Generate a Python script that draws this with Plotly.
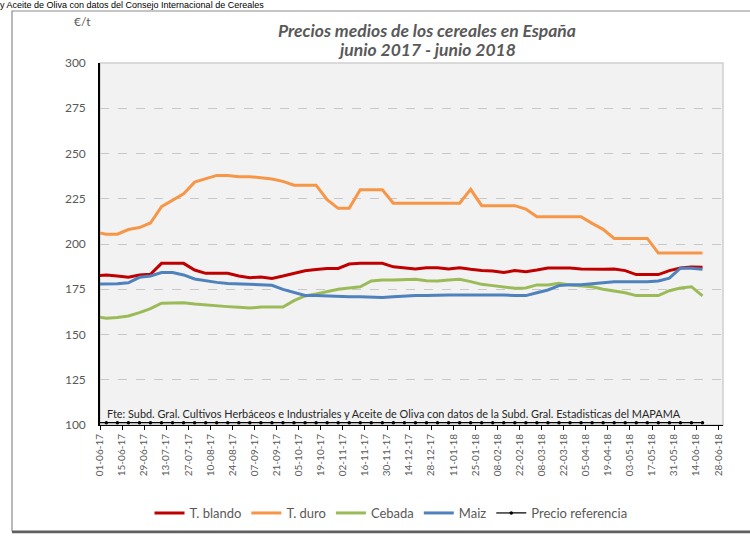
import plotly.graph_objects as go
import pandas as pd

# Weekly quotation dates (Mondays)
dates = pd.date_range("2017-05-29", "2018-06-18", freq="7D")

t_blando = [182.3, 182.9, 182.3, 181.7, 182.9, 183.3, 189.3, 189.3, 189.3, 185.6,
            183.8, 183.8, 183.8, 182.3, 181.4, 181.7, 181.0, 182.3, 183.8, 185.2,
            185.9, 186.5, 186.5, 188.9, 189.3, 189.3, 189.3, 187.4, 186.8, 186.2,
            186.9, 186.9, 186.2, 186.9, 186.0, 185.3, 185.1, 184.2, 185.3, 184.7,
            185.6, 186.7, 186.7, 186.7, 186.2, 186.0, 186.0, 186.2, 185.3, 183.1,
            182.9, 183.1, 185.3, 186.7, 187.3, 187.1]

t_duro = [206.5, 205.4, 205.4, 208.0, 209.1, 211.6, 220.6, 224.0, 227.7, 234.2,
          236.1, 237.9, 237.9, 237.2, 237.2, 236.6, 235.9, 234.6, 232.5, 232.5,
          232.5, 224.5, 219.7, 219.7, 230.0, 230.0, 230.0, 222.5, 222.5, 222.5,
          222.5, 222.5, 222.5, 222.5, 230.2, 221.2, 221.2, 221.2, 221.2, 219.3,
          215.1, 215.1, 215.1, 215.1, 215.1, 211.4, 208.1, 203.1, 203.1, 203.1,
          203.1, 195.0, 195.0, 195.0, 195.0, 195.0]

cebada = [159.9, 159.0, 159.4, 160.2, 162.1, 164.3, 167.3, 167.3, 167.6, 166.9,
          166.3, 165.7, 165.4, 165.0, 164.6, 165.2, 165.2, 165.2, 168.7, 171.3,
          172.4, 173.7, 175.0, 175.7, 176.4, 179.6, 180.1, 180.1, 180.5, 180.5,
          179.7, 179.6, 180.1, 180.5, 179.2, 177.7, 177.0, 176.1, 175.5, 175.7,
          177.4, 177.4, 178.3, 177.4, 177.0, 176.4, 175.0, 173.9, 173.1, 171.5,
          171.5, 171.5, 174.2, 175.7, 176.4, 171.3]

maiz = [177.9, 177.9, 178.0, 178.6, 181.6, 182.3, 184.2, 184.2, 182.9, 180.7,
        179.7, 178.8, 178.2, 177.9, 177.7, 177.5, 177.2, 174.9, 173.1, 171.6,
        171.6, 171.3, 170.9, 170.9, 170.9, 170.5, 170.5, 170.9, 171.3, 171.5,
        171.6, 171.5, 171.8, 171.8, 171.8, 172.2, 172.2, 171.8, 171.5, 171.5,
        173.1, 174.6, 177.0, 177.5, 177.5, 178.1, 178.3, 179.2, 179.2, 179.0,
        179.2, 179.6, 181.1, 186.6, 186.6, 186.0]

precio_ref = [101.31] * len(dates)

y_ticks = [100, 125, 150, 175, 200, 225, 250, 275, 300]

series = [
    ("T. blando", t_blando, "#c00000"),
    ("T. duro", t_duro, "#f79646"),
    ("Cebada", cebada, "#9bbb59"),
    ("Maiz", maiz, "#4f81bd"),
]

FONT = "Lato"
GREY = "#595959"

fig = go.Figure()
for name, vals, col in series:
    fig.add_trace(go.Scatter(x=dates, y=vals, name=name, mode="lines",
                             line=dict(color=col, width=3)))
fig.add_trace(go.Scatter(x=dates, y=precio_ref, name="Precio referencia",
                         mode="lines+markers",
                         line=dict(color="#000000", width=1.2),
                         marker=dict(color="#000000", size=3.5)))

W, H = 750, 536
L, R, T, B = 100, 27, 63, 111
pw, ph = W - L - R, H - T - B

def px(x):
    return (x - L) / pw

def py(y):
    return (H - B - y) / ph

fig.update_layout(
    width=W, height=H,
    autosize=False,
    margin=dict(l=L, r=R, t=T, b=B, pad=0, autoexpand=False),
    paper_bgcolor="white",
    plot_bgcolor="#f2f2f2",
    font=dict(family=FONT, color=GREY, size=11),
    showlegend=True,
    legend=dict(orientation="h", x=px(391), xanchor="center", y=py(513), yanchor="middle",
                font=dict(family=FONT, size=13, color=GREY),
                itemwidth=30, tracegroupgap=0, bgcolor="rgba(0,0,0,0)"),
    xaxis=dict(type="date", range=["2017-06-01", "2018-07-01"],
               tick0="2017-06-01", dtick=14 * 86400000,
               tickformat="%d-%m-%y", tickangle=-90, automargin=False,
               tickfont=dict(family=FONT, size=10, color=GREY),
               showgrid=False, zeroline=False,
               showline=True, linecolor="#000000", linewidth=1,
               ticks="outside", ticklen=4, tickcolor="#000000"),
    yaxis=dict(range=[100, 300], tickvals=y_ticks, automargin=False,
               tickfont=dict(family=FONT, size=12, color=GREY),
               showgrid=True, gridcolor="#c8c8c8", griddash="dash", gridwidth=1,
               zeroline=False, showline=True, linecolor="#000000", linewidth=1.5,
               ticks="outside", ticklen=10, tickcolor="rgba(0,0,0,0)"),
)

# plot-area frame (right/top light grey)
fig.add_shape(type="rect", xref="paper", yref="paper", x0=0, x1=1, y0=0, y1=1,
              line=dict(color="#d0d0d0", width=1.5), layer="below")
# outer chart frame
fig.add_shape(type="rect", xref="paper", yref="paper",
              x0=px(12), x1=px(770), y0=py(531), y1=py(11),
              line=dict(color="#8c8c8c", width=1.2), layer="below")
fig.add_shape(type="line", xref="paper", yref="paper",
              x0=px(12), x1=px(770), y0=py(532), y1=py(532),
              line=dict(color="#606060", width=2.5))

fig.add_annotation(text="<b><i>Precios medios de los cereales en España</i></b>",
                   xref="paper", yref="paper", x=px(427), y=py(30),
                   xanchor="center", yanchor="middle", showarrow=False,
                   font=dict(family=FONT, size=17.5, color=GREY))
fig.add_annotation(text="<b><i>junio 2017 - junio 2018</i></b>",
                   xref="paper", yref="paper", x=px(427), y=py(50),
                   xanchor="center", yanchor="middle", showarrow=False,
                   font=dict(family=FONT, size=17.5, color=GREY))
fig.add_annotation(text="€/t", xref="paper", yref="paper", x=px(82), y=py(22),
                   xanchor="center", yanchor="middle", showarrow=False,
                   font=dict(family=FONT, size=12, color=GREY))
fig.add_annotation(text="Fte: Subd. Gral. Cultivos Herbáceos e Industriales y Aceite de Oliva con datos de la Subd. Gral. Estadisticas del MAPAMA",
                   xref="paper", yref="paper", x=px(105), y=py(413),
                   xanchor="left", yanchor="middle", showarrow=False,
                   font=dict(family=FONT, size=10.9, color="#262626"))
fig.add_annotation(text="y Aceite de Oliva con datos del Consejo Internacional de Cereales",
                   xref="paper", yref="paper", x=px(-2), y=py(-2),
                   xanchor="left", yanchor="top", showarrow=False,
                   font=dict(family="Liberation Sans", size=9, color="#000000"))

fig.write_html("out.html", config={"displayModeBar": False},
               post_script="document.body.style.margin='0';")
